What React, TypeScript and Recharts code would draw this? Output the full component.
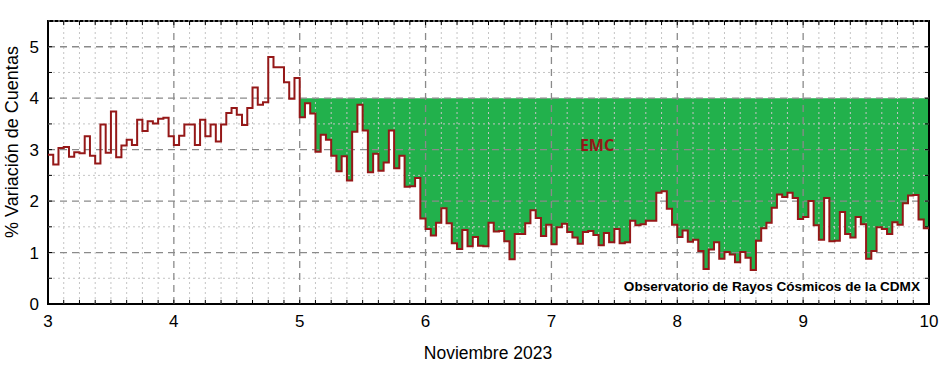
import { ComposedChart, Line, Area, XAxis, YAxis, ReferenceLine, ReferenceArea } from 'recharts';

// % variación horaria, un arreglo por día (24 horas)
const nov3 = [2.90, 2.71, 3.03, 3.05, 2.86, 2.95, 2.93, 3.26, 2.88, 2.73, 3.49, 2.94, 3.74, 2.85, 3.08, 3.19, 3.09, 3.58, 3.36, 3.55, 3.51, 3.60, 3.62, 3.26];
const nov4 = [3.09, 3.27, 3.49, 3.49, 3.09, 3.58, 3.26, 3.49, 3.16, 3.49, 3.71, 3.81, 3.68, 3.48, 3.81, 4.21, 3.87, 3.92, 4.80, 4.60, 4.60, 4.31, 3.99, 4.39];
const nov5 = [3.63, 3.90, 3.70, 2.96, 3.29, 3.19, 2.88, 2.58, 2.87, 2.40, 3.35, 3.87, 3.37, 2.56, 2.92, 2.59, 2.75, 3.37, 2.64, 2.88, 2.28, 2.29, 2.45, 1.66];
const nov6 = [1.46, 1.33, 1.58, 1.86, 1.57, 1.18, 1.07, 1.44, 1.12, 1.30, 1.13, 1.12, 1.58, 1.41, 1.42, 1.22, 0.87, 1.36, 1.36, 1.57, 1.82, 1.67, 1.32, 1.54];
const nov7 = [1.16, 1.49, 1.56, 1.40, 1.29, 1.17, 1.40, 1.42, 1.34, 1.14, 1.38, 1.20, 1.46, 1.18, 1.20, 1.62, 1.53, 1.55, 1.62, 1.62, 2.16, 2.19, 1.85, 1.54];
const nov8 = [1.30, 1.43, 1.21, 1.25, 1.03, 0.68, 1.06, 1.20, 0.88, 1.01, 0.96, 0.81, 1.01, 0.90, 0.66, 1.23, 1.47, 1.58, 1.87, 2.13, 2.08, 2.16, 2.06, 1.65];
const nov9 = [1.69, 2.00, 1.53, 1.25, 2.06, 1.22, 1.23, 1.79, 1.36, 1.29, 1.69, 1.55, 0.88, 1.03, 1.49, 1.46, 1.36, 1.59, 1.54, 1.96, 2.11, 2.12, 1.64, 1.47];

const startDay = 3;
const emcStartDay = 5;
const emcLevel = 4;

const xTicks = [3, 4, 5, 6, 7, 8, 9, 10];
const yTicks = [0, 1, 2, 3, 4, 5];

const hourly = [...nov3, ...nov4, ...nov5, ...nov6, ...nov7, ...nov8, ...nov9];

const data = hourly.map((v, i) => {
    const x = startDay + i / 24;
    return { x, v, band: x >= emcStartDay ? [v, emcLevel] : null };
});
// cierre del último escalón en x = 10
const last = hourly[hourly.length - 1];
data.push({ x: 10, v: last, band: [last, emcLevel] });

const minorX: number[] = [];
for (let i = 0; i <= 56; i++) minorX.push(3 + i / 8);
const minorY: number[] = [];
for (let i = 0; i <= 11; i++) minorY.push(i / 2);

const font = 'Arial, "Liberation Sans", sans-serif';

export default function App() {
    return (
        <div style={{ position: 'relative', width: 940, height: 367, background: '#fff', fontFamily: font }}>
            <style>{'body{margin:0}'}</style>
            <ComposedChart width={940} height={367} data={data} margin={{ top: 21, right: 11, bottom: 33, left: 0 }}>
                <XAxis dataKey="x" type="number" domain={[3, 10]} ticks={xTicks} allowDataOverflow axisLine={false} tickLine={false} tickMargin={5} height={30} tick={{ fontSize: 17, fill: '#000', fontFamily: font }} />
                <YAxis type="number" domain={[0, 5.5]} ticks={yTicks} allowDataOverflow axisLine={false} tickLine={false} tickMargin={3} width={48} tick={{ fontSize: 17, fill: '#000', fontFamily: font }} />

                <Area dataKey="band" type="stepAfter" fill="#22b14c" fillOpacity={1} stroke="none" isAnimationActive={false} connectNulls={false} />

                {minorX.filter((t) => t % 1 !== 0).map((t) => (
                    <ReferenceLine key={'mx' + t} x={t} stroke="#c4c4c4" strokeDasharray="2 3" />
                ))}
                {minorY.filter((t) => t % 1 !== 0).map((t) => (
                    <ReferenceLine key={'my' + t} y={t} stroke="#c4c4c4" strokeDasharray="2 3" />
                ))}
                {xTicks.slice(1, -1).map((t) => (
                    <ReferenceLine key={'gx' + t} x={t} stroke="#8a8a8a" strokeWidth={1.3} strokeDasharray="7 5" />
                ))}
                {yTicks.slice(1).map((t) => (
                    <ReferenceLine key={'gy' + t} y={t} stroke="#8a8a8a" strokeWidth={1.3} strokeDasharray="7 5" />
                ))}

                {minorX.map((t) => (
                    <ReferenceLine key={'tb' + t} segment={[{ x: t, y: 0 }, { x: t, y: 0.08 }]} stroke="#000" />
                ))}
                {minorX.map((t) => (
                    <ReferenceLine key={'tt' + t} segment={[{ x: t, y: 5.5 }, { x: t, y: 5.42 }]} stroke="#000" />
                ))}
                {minorY.map((t) => (
                    <ReferenceLine key={'tl' + t} segment={[{ x: 3, y: t }, { x: 3.032, y: t }]} stroke="#000" />
                ))}
                {minorY.map((t) => (
                    <ReferenceLine key={'tr' + t} segment={[{ x: 10, y: t }, { x: 9.968, y: t }]} stroke="#000" />
                ))}

                <Line dataKey="v" type="stepAfter" stroke="#951818" strokeWidth={2} dot={false} isAnimationActive={false} />

                <ReferenceArea x1={3} x2={10} y1={0} y2={5.5} fill="none" stroke="#000" strokeWidth={2} />
            </ComposedChart>

            <div style={{ position: 'absolute', left: 12, top: 142, transform: 'translate(-50%, -50%) rotate(-90deg)', fontSize: 18, whiteSpace: 'nowrap' }}>
                % Variación de Cuentas
            </div>
            <div style={{ position: 'absolute', left: 488, top: 353, transform: 'translate(-50%, -50%)', fontSize: 17.5, whiteSpace: 'nowrap' }}>
                Noviembre 2023
            </div>
            <div style={{ position: 'absolute', left: 597, top: 145, transform: 'translate(-50%, -50%)', fontSize: 16, fontWeight: 700, color: '#951818', fontFamily: '"Open Sans", sans-serif' }}>
                EMC
            </div>
            <div style={{ position: 'absolute', right: 20, top: 286, transform: 'translateY(-50%)', fontSize: 13.6, fontWeight: 700, whiteSpace: 'nowrap' }}>
                Observatorio de Rayos Cósmicos de la CDMX
            </div>
        </div>
    );
}
